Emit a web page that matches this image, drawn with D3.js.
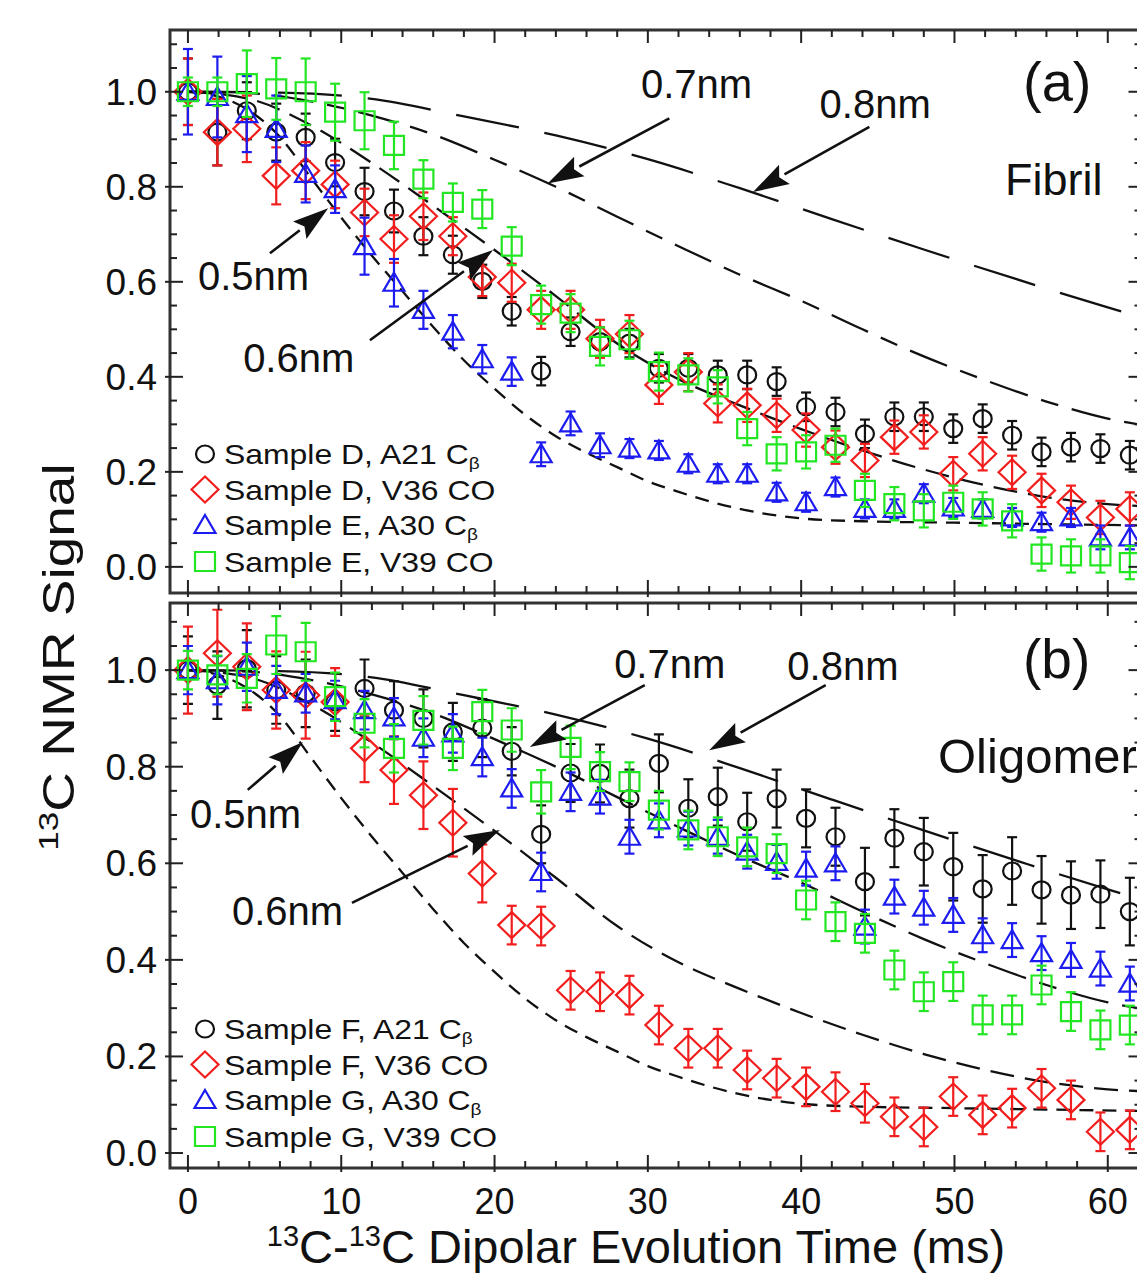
<!DOCTYPE html>
<html lang="en">
<head>
<meta charset="utf-8">
<title>13C NMR signal decay</title>
<script src="https://cdn.jsdelivr.net/npm/d3@7"></script>
<style>
body { margin: 0; background: #fff; }
svg text { font-family: "Liberation Sans", Arial, sans-serif; fill: #111; }
</style>
</head>
<body>
<svg id="chart" width="1137" height="1279"></svg>
<script>
// dipolar evolution times (ms)
var times = [0, 1.92, 3.84, 5.76, 7.68, 9.6, 11.52, 13.44, 15.36, 17.28, 19.2, 21.12, 23.04,
  24.96, 26.88, 28.8, 30.72, 32.64, 34.56, 36.48, 38.4, 40.32, 42.24, 44.16, 46.08, 48.0,
  49.92, 51.84, 53.76, 55.68, 57.6, 59.52, 61.44];

// panel (a) fibril
var fibD_A21 = [1.0, 0.915, 0.96, 0.915, 0.904, 0.851, 0.79, 0.749, 0.696, 0.657, 0.601, 0.538, 0.412,
  0.495, 0.474, 0.471, 0.418, 0.418, 0.404, 0.404, 0.39, 0.337, 0.326, 0.28, 0.316, 0.316, 0.291,
  0.312, 0.277, 0.242, 0.252, 0.249, 0.235];
var fibD_A21_err = [0.07, 0.07, 0.06, 0.06, 0.05, 0.05, 0.05, 0.045, 0.04, 0.04, 0.035, 0.03, 0.03,
  0.03, 0.03, 0.03, 0.03, 0.03, 0.03, 0.03, 0.03, 0.03, 0.03, 0.03, 0.03, 0.03, 0.03, 0.03, 0.03,
  0.03, 0.03, 0.03, 0.03];
var fibD_V36 = [1.0, 0.915, 0.922, 0.823, 0.834, 0.805, 0.746, 0.69, 0.738, 0.696, 0.61, 0.598, 0.541,
  0.541, 0.48, 0.49, 0.383, 0.41, 0.344, 0.34, 0.319, 0.288, 0.252, 0.224, 0.273, 0.284, 0.196,
  0.238, 0.199, 0.161, 0.136, 0.104, 0.122];
var fibD_V36_err = [0.07, 0.07, 0.07, 0.06, 0.06, 0.05, 0.05, 0.05, 0.05, 0.04, 0.04, 0.04, 0.04,
  0.04, 0.04, 0.04, 0.04, 0.04, 0.04, 0.035, 0.035, 0.035, 0.035, 0.035, 0.035, 0.035, 0.035,
  0.035, 0.035, 0.035, 0.035, 0.035, 0.035];
var fibE_A30 = [1.0, 0.989, 0.953, 0.922, 0.827, 0.795, 0.675, 0.598, 0.541, 0.495, 0.437, 0.411, 0.237,
  0.302, 0.256, 0.249, 0.245, 0.217, 0.196, 0.196, 0.157, 0.136, 0.168, 0.122, 0.122, 0.154, 0.125,
  0.122, 0.104, 0.094, 0.104, 0.062, 0.062];
var fibE_A30_err = [0.09, 0.085, 0.08, 0.07, 0.06, 0.05, 0.06, 0.05, 0.04, 0.035, 0.03, 0.03, 0.025,
  0.025, 0.025, 0.02, 0.02, 0.02, 0.02, 0.02, 0.02, 0.02, 0.02, 0.02, 0.02, 0.02, 0.02, 0.02, 0.02,
  0.02, 0.02, 0.025, 0.025];
var fibE_V39 = [1.0, 1.0, 1.017, 1.006, 1.0, 0.957, 0.939, 0.887, 0.816, 0.767, 0.753, 0.675, 0.552,
  0.534, 0.464, 0.478, 0.411, 0.404, 0.379, 0.291, 0.238, 0.242, 0.256, 0.161, 0.133, 0.118, 0.136,
  0.122, 0.097, 0.027, 0.023, 0.023, 0.009];
var fibE_V39_err = [0.03, 0.03, 0.07, 0.065, 0.07, 0.06, 0.06, 0.05, 0.04, 0.04, 0.04, 0.04, 0.04,
  0.04, 0.04, 0.04, 0.04, 0.035, 0.035, 0.035, 0.035, 0.035, 0.035, 0.035, 0.035, 0.035, 0.035,
  0.035, 0.035, 0.035, 0.035, 0.035, 0.035];

// panel (b) oligomer
var oliF_A21 = [1.0, 0.969, 1.003, 0.959, 0.952, 0.934, 0.962, 0.917, 0.9, 0.872, 0.88, 0.832, 0.66,
  0.787, 0.786, 0.734, 0.807, 0.714, 0.738, 0.686, 0.734, 0.693, 0.655, 0.562, 0.652, 0.624, 0.593,
  0.547, 0.584, 0.545, 0.534, 0.536, 0.5];
var oliF_A21_err = [0.07, 0.07, 0.08, 0.07, 0.07, 0.06, 0.06, 0.06, 0.06, 0.06, 0.06, 0.05, 0.06,
  0.06, 0.06, 0.06, 0.06, 0.06, 0.06, 0.06, 0.06, 0.06, 0.06, 0.07, 0.06, 0.07, 0.07, 0.07, 0.07,
  0.07, 0.07, 0.07, 0.07];
var oliF_V36 = [1.0, 1.035, 1.007, 0.959, 0.948, 0.934, 0.838, 0.793, 0.741, 0.684, 0.579, 0.472, 0.47,
  0.337, 0.334, 0.327, 0.265, 0.217, 0.217, 0.172, 0.155, 0.137, 0.127, 0.103, 0.075, 0.054, 0.117,
  0.079, 0.093, 0.134, 0.11, 0.044, 0.048];
var oliF_V36_err = [0.09, 0.09, 0.09, 0.08, 0.09, 0.07, 0.07, 0.07, 0.07, 0.07, 0.06, 0.04, 0.04,
  0.04, 0.04, 0.04, 0.04, 0.04, 0.04, 0.04, 0.04, 0.04, 0.04, 0.04, 0.04, 0.04, 0.04, 0.04, 0.04,
  0.04, 0.04, 0.04, 0.04];
var oliG_A30 = [1.0, 0.979, 1.007, 0.959, 0.952, 0.938, 0.917, 0.902, 0.86, 0.869, 0.82, 0.755, 0.582,
  0.748, 0.738, 0.655, 0.689, 0.672, 0.655, 0.624, 0.603, 0.589, 0.6, 0.469, 0.531, 0.508, 0.493,
  0.451, 0.441, 0.414, 0.4, 0.382, 0.351];
var oliG_A30_err = [0.05, 0.05, 0.05, 0.05, 0.04, 0.04, 0.04, 0.04, 0.04, 0.04, 0.04, 0.04, 0.04,
  0.04, 0.035, 0.035, 0.035, 0.035, 0.035, 0.035, 0.035, 0.035, 0.035, 0.035, 0.035, 0.035, 0.035,
  0.035, 0.035, 0.035, 0.035, 0.035, 0.035];
var oliG_V39 = [1.0, 0.99, 0.983, 1.052, 1.038, 0.945, 0.89, 0.838, 0.896, 0.838, 0.914, 0.876, 0.748,
  0.84, 0.79, 0.769, 0.71, 0.669, 0.655, 0.634, 0.62, 0.524, 0.479, 0.455, 0.379, 0.334, 0.355,
  0.286, 0.286, 0.348, 0.293, 0.255, 0.265];
var oliG_V39_err = [0.04, 0.04, 0.05, 0.06, 0.06, 0.05, 0.05, 0.05, 0.05, 0.045, 0.045, 0.045, 0.045,
  0.045, 0.04, 0.04, 0.04, 0.04, 0.04, 0.04, 0.04, 0.04, 0.04, 0.04, 0.04, 0.04, 0.04, 0.04, 0.04,
  0.04, 0.04, 0.04, 0.04];

// simulated decay curves as [time, signal]
var sim05 = [[0, 1], [2, 0.99], [4, 0.96], [6, 0.905], [8, 0.82], [10, 0.735], [12, 0.655], [14, 0.58],
  [16, 0.505], [18, 0.435], [20, 0.375], [22, 0.32], [24, 0.275], [26, 0.24], [28, 0.21], [30, 0.18],
  [32, 0.158], [34, 0.138], [36, 0.122], [38, 0.11], [40, 0.102], [44, 0.096], [50, 0.093],
  [56, 0.09], [63, 0.087]];
var sim06 = [[0, 1], [4, 0.985], [8, 0.93], [12, 0.85], [16, 0.76], [20, 0.667], [24, 0.57], [28, 0.47],
  [32, 0.395], [36, 0.34], [40, 0.29], [44, 0.245], [48, 0.205], [52, 0.172], [56, 0.147],
  [60, 0.132], [63, 0.127]];
var sim07 = [[0, 1], [4, 0.997], [8, 0.98], [12, 0.95], [16, 0.91], [20, 0.857], [24, 0.8], [28, 0.737],
  [32, 0.675], [36, 0.615], [40, 0.56], [44, 0.5], [48, 0.443], [52, 0.393], [56, 0.348],
  [60, 0.312], [63, 0.295]];
var sim08 = [[0, 1], [6, 0.998], [12, 0.985], [18, 0.948], [24, 0.908], [30, 0.858], [36, 0.797],
  [42, 0.732], [48, 0.668], [54, 0.606], [60, 0.546], [63, 0.518]];

var yTicks = [0.0, 0.2, 0.4, 0.6, 0.8, 1.0];
var xTicks = [0, 10, 20, 30, 40, 50, 60];

var svg = d3.select("#chart");

var x = d3.scaleLinear().domain([-1.17, 62.2]).range([170, 1141.5]);

var colors = { black: "#111111", red: "#f21d1d", blue: "#1c1cf0", green: "#22e622" };

// marker shapes
function markerPath(shape) {
  if (shape == "circle") return "M-9,0A9,8.5 0 1,0 9,0A9,8.5 0 1,0 -9,0Z";
  if (shape == "diamond") return "M0,-13L13.5,0L0,13L-13.5,0Z";
  if (shape == "triangle") return "M0,-10L10.5,8L-10.5,8Z";
  return "M-10,-9.5L10,-9.5L10,9.5L-10,9.5Z";
}

var panels = [
  {
    top: 30, bottom: 593, domain: [-0.055, 1.13], tag: "(a)", tagY: 101, tagSize: 56,
    name: "Fibril", nameX: 1005, nameY: 195, nameSize: 45,
    series: [
      { label: "Sample D, A21 C", sub: "\u03b2", shape: "circle", color: colors.black, v: fibD_A21, e: fibD_A21_err },
      { label: "Sample D, V36 CO", sub: "", shape: "diamond", color: colors.red, v: fibD_V36, e: fibD_V36_err },
      { label: "Sample E, A30 C", sub: "\u03b2", shape: "triangle", color: colors.blue, v: fibE_A30, e: fibE_A30_err },
      { label: "Sample E, V39 CO", sub: "", shape: "square", color: colors.green, v: fibE_V39, e: fibE_V39_err }
    ],
    notes: [
      { label: "0.5nm", tx: 0.65, ty: 0.583, x1: 5.35, y1: 0.66, x2: 9.15, y2: 0.755 },
      { label: "0.6nm", tx: 3.6, ty: 0.41, x1: 11.87, y1: 0.477, x2: 19.9, y2: 0.667 },
      { label: "0.7nm", tx: 29.55, ty: 0.987, x1: 31.4, y1: 0.944, x2: 23.46, y2: 0.807 },
      { label: "0.8nm", tx: 41.2, ty: 0.945, x1: 44.45, y1: 0.926, x2: 36.86, y2: 0.789 }
    ]
  },
  {
    top: 603, bottom: 1168, domain: [-0.031, 1.139], tag: "(b)", tagY: 678, tagSize: 55,
    name: "Oligomer", nameX: 938, nameY: 773, nameSize: 49,
    series: [
      { label: "Sample F, A21 C", sub: "\u03b2", shape: "circle", color: colors.black, v: oliF_A21, e: oliF_A21_err },
      { label: "Sample F, V36 CO", sub: "", shape: "diamond", color: colors.red, v: oliF_V36, e: oliF_V36_err },
      { label: "Sample G, A30 C", sub: "\u03b2", shape: "triangle", color: colors.blue, v: oliG_A30, e: oliG_A30_err },
      { label: "Sample G, V39 CO", sub: "", shape: "square", color: colors.green, v: oliG_V39, e: oliG_V39_err }
    ],
    notes: [
      { label: "0.5nm", tx: 0.13, ty: 0.673, x1: 3.9, y1: 0.752, x2: 7.5, y2: 0.851 },
      { label: "0.6nm", tx: 2.87, ty: 0.472, x1: 10.7, y1: 0.518, x2: 20.35, y2: 0.669 },
      { label: "0.7nm", tx: 27.8, ty: 0.983, x1: 29.8, y1: 0.969, x2: 22.3, y2: 0.841 },
      { label: "0.8nm", tx: 39.1, ty: 0.979, x1: 41.6, y1: 0.969, x2: 34.0, y2: 0.834 }
    ]
  }
];

var curves = [
  { pts: sim05, dash: "14,9" },
  { pts: sim06, dash: "24,11" },
  { pts: sim07, dash: "40,14,18,14" },
  { pts: sim08, dash: "64,26" }
];

panels.forEach(function(p, pi) {
  var y = d3.scaleLinear().domain(p.domain).range([p.bottom, p.top]);
  var g = svg.append("g");

  var clipId = "clip" + pi;
  svg.append("clipPath").attr("id", clipId)
    .append("rect").attr("x", x.range()[0]).attr("y", p.top)
    .attr("width", x.range()[1] - x.range()[0]).attr("height", p.bottom - p.top);

  var plot = g.append("g").attr("clip-path", "url(#" + clipId + ")");

  // simulated curves
  var line = d3.line().x(function(d) { return x(d[0]); }).y(function(d) { return y(d[1]); })
    .curve(d3.curveMonotoneX);
  curves.forEach(function(c) {
    plot.append("path").attr("d", line(c.pts))
      .attr("fill", "none").attr("stroke", "#111").attr("stroke-width", 2.3)
      .attr("stroke-dasharray", c.dash);
  });

  // data with error bars
  p.series.forEach(function(s) {
    var pts = times.map(function(t, i) { return { t: t, v: s.v[i], e: s.e[i] }; });
    var sg = plot.append("g").attr("stroke", s.color).attr("fill", "none").attr("stroke-width", 2.2);
    var eb = sg.selectAll("g.eb").data(pts).enter().append("g");
    eb.append("line")
      .attr("x1", function(d) { return x(d.t); }).attr("x2", function(d) { return x(d.t); })
      .attr("y1", function(d) { return y(d.v - d.e); }).attr("y2", function(d) { return y(d.v + d.e); });
    eb.append("line")
      .attr("x1", function(d) { return x(d.t) - 5; }).attr("x2", function(d) { return x(d.t) + 5; })
      .attr("y1", function(d) { return y(d.v - d.e); }).attr("y2", function(d) { return y(d.v - d.e); });
    eb.append("line")
      .attr("x1", function(d) { return x(d.t) - 5; }).attr("x2", function(d) { return x(d.t) + 5; })
      .attr("y1", function(d) { return y(d.v + d.e); }).attr("y2", function(d) { return y(d.v + d.e); });
    sg.selectAll("path.mk").data(pts).enter().append("path")
      .attr("d", markerPath(s.shape))
      .attr("transform", function(d) { return "translate(" + x(d.t) + "," + y(d.v) + ")"; });
  });

  // frame
  g.append("rect").attr("x", x.range()[0]).attr("y", p.top)
    .attr("width", x.range()[1] - x.range()[0]).attr("height", p.bottom - p.top)
    .attr("fill", "none").attr("stroke", "#333").attr("stroke-width", 3);

  // ticks on all four sides, pointing inward
  var ticks = g.append("g").attr("stroke", "#222").attr("stroke-width", 2);
  var xMinor = d3.range(0, 63, 2);
  xMinor.forEach(function(t) {
    var major = t % 10 == 0;
    var len = major ? 13 : 7;
    ticks.append("line").attr("x1", x(t)).attr("x2", x(t)).attr("y1", p.bottom + (major ? 4 : 0)).attr("y2", p.bottom - len);
    ticks.append("line").attr("x1", x(t)).attr("x2", x(t)).attr("y1", p.top).attr("y2", p.top + len);
  });
  var yMinor = d3.range(0, 23).map(function(k) { return k * 0.05; });
  yMinor.forEach(function(v, k) {
    var major = k % 4 == 0;
    var len = major ? 13 : 7;
    ticks.append("line").attr("x1", x.range()[0] - (major ? 5 : 0)).attr("x2", x.range()[0] + len).attr("y1", y(v)).attr("y2", y(v));
    ticks.append("line").attr("x1", x.range()[1]).attr("x2", x.range()[1] - len).attr("y1", y(v)).attr("y2", y(v));
  });

  // y tick labels
  g.selectAll("text.yl").data(yTicks).enter().append("text")
    .attr("x", 157).attr("y", function(d) { return y(d) + 13; })
    .attr("text-anchor", "end").attr("font-size", 37)
    .text(function(d) { return d.toFixed(1); });

  // legend, text drawn slightly wide like the original
  var legOff = [139, 103.5, 68, 31.5];
  p.series.forEach(function(s, i) {
    var ly = p.bottom - legOff[i];
    g.append("path").attr("d", markerPath(s.shape))
      .attr("transform", "translate(205," + ly + ")")
      .attr("fill", "none").attr("stroke", s.color).attr("stroke-width", 2.2);
    var tx = g.append("text").attr("transform", "translate(224," + (ly + 10) + ") scale(1.12,1)")
      .attr("font-size", 28.5).text(s.label);
    if (s.sub) tx.append("tspan").attr("font-size", 17).attr("dy", 5).text(s.sub);
  });

  // arrows and distance labels
  p.notes.forEach(function(n) {
    var ax1 = x(n.x1), ay1 = y(n.y1), ax2 = x(n.x2), ay2 = y(n.y2);
    var ang = Math.atan2(ay2 - ay1, ax2 - ax1);
    var hl = 36, hw = 11;
    var bx = ax2 - hl * Math.cos(ang), by = ay2 - hl * Math.sin(ang);
    g.append("line").attr("x1", ax1).attr("y1", ay1).attr("x2", bx).attr("y2", by)
      .attr("stroke", "#111").attr("stroke-width", 2.6);
    var head = [[ax2, ay2],
      [bx + hw * Math.sin(ang), by - hw * Math.cos(ang)],
      [bx + 6 * Math.cos(ang), by + 6 * Math.sin(ang)],
      [bx - hw * Math.sin(ang), by + hw * Math.cos(ang)]];
    g.append("path").attr("d", "M" + head.join("L") + "Z").attr("fill", "#111");
    g.append("text").attr("x", x(n.tx)).attr("y", y(n.ty)).attr("font-size", 40).text(n.label);
  });

  g.append("text").attr("x", 1023).attr("y", p.tagY).attr("font-size", p.tagSize).text(p.tag);
  g.append("text").attr("x", p.nameX).attr("y", p.nameY).attr("font-size", p.nameSize).text(p.name);

  if (pi == 1) {
    g.selectAll("text.xl").data(xTicks).enter().append("text")
      .attr("x", function(d) { return x(d); }).attr("y", 1214)
      .attr("text-anchor", "middle").attr("font-size", 36)
      .text(function(d) { return d; });
  }
});

// axis titles
var xt = svg.append("text").attr("x", 636).attr("y", 1263).attr("text-anchor", "middle").attr("font-size", 47);
xt.append("tspan").attr("font-size", 29).attr("dy", -17).text("13");
xt.append("tspan").attr("dy", 17).text("C-");
xt.append("tspan").attr("font-size", 29).attr("dy", -17).text("13");
xt.append("tspan").attr("dy", 17).text("C Dipolar Evolution Time (ms)");

var yt = svg.append("text").attr("transform", "translate(74,657) rotate(-90) scale(1.25,1)")
  .attr("text-anchor", "middle").attr("font-size", 44);
yt.append("tspan").attr("font-size", 28).attr("dy", -16).text("13");
yt.append("tspan").attr("dy", 16).text("C NMR Signal");
</script>
</body>
</html>
